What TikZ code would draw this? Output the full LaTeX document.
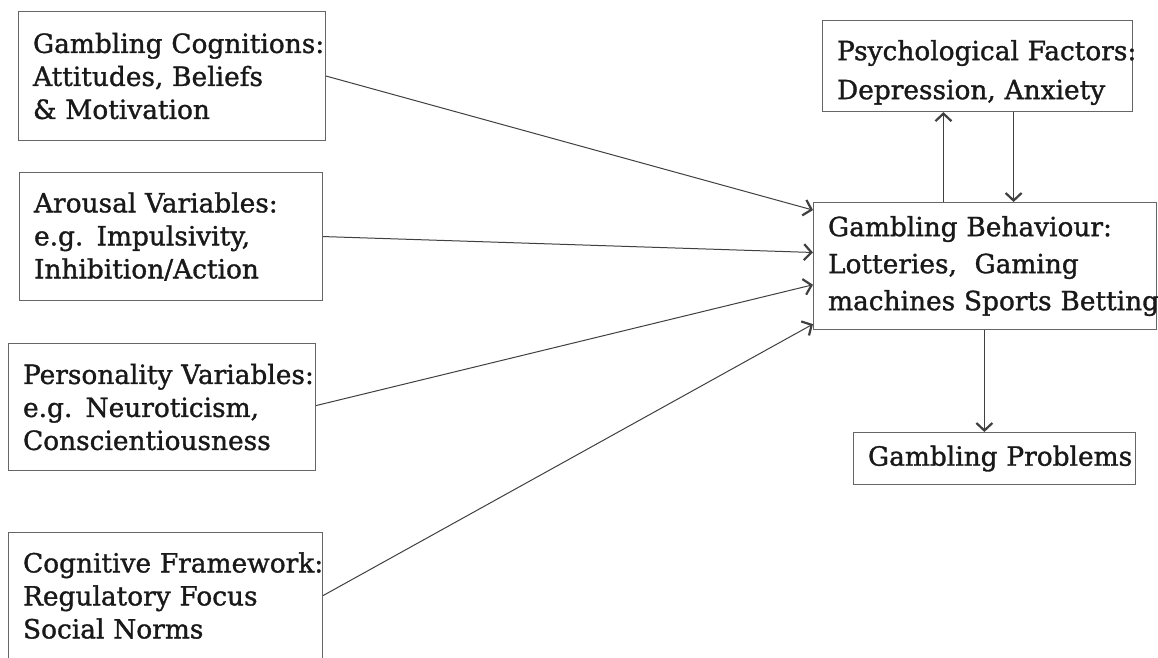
\documentclass[tikz,border=0pt]{standalone}
\usepackage{fontspec}
\setmainfont{DejaVu Serif}[FakeBold=1.2]
\usetikzlibrary{arrows.meta,calc}
\tikzset{
  boxnode/.style={draw=black!60, line width=1.1pt, inner ysep=0pt, inner xsep=14.5pt,
    anchor=north west, align=left, text=black!90,
    font=\fontsize{26.4}{33}\selectfont},
  link/.style={draw=black!75, line width=1pt,
    -{Straight Barb[length=7.5pt,width=16pt,line width=2.2pt]}}
}
\begin{document}
\begin{tikzpicture}[x=1pt,y=-1pt]
\useasboundingbox (0,0) rectangle (1158,657);
\clip (0,0) rectangle (1158,657);
\fill[white] (0,0) rectangle (1158,657);

\node[boxnode, minimum width=307pt, minimum height=129pt, text width=278pt] (c1) at (18,11)
  {\mbox{Gambling Cognitions:}\\\mbox{Attitudes, Beliefs}\\\mbox{\& Motivation}};
\node[boxnode, minimum width=303pt, minimum height=128pt, text width=274pt] (c2) at (19,172)
  {\mbox{Arousal Variables:}\\\mbox{e.g. Impulsivity,}\\\mbox{Inhibition/Action}};
\node[boxnode, minimum width=307pt, minimum height=127pt, text width=278pt] (c3) at (8,343)
  {\mbox{Personality Variables:}\\\mbox{e.g. Neuroticism,}\\\mbox{Conscientiousness}};
\node[boxnode, minimum width=314pt, minimum height=126pt, text width=285pt] (c4) at (8,532)
  {\mbox{Cognitive Framework:}\\\mbox{Regulatory Focus}\\\mbox{Social Norms}};
\node[boxnode, minimum width=310pt, minimum height=91pt, text width=281pt,
  font=\fontsize{26.4}{39}\selectfont] (psy) at (822,20)
  {\rule{0pt}{33pt}\mbox{Psychological Factors:}\\\mbox{Depression, Anxiety}};
\node[boxnode, minimum width=343pt, minimum height=127pt, text width=314pt,
  font=\fontsize{26.4}{37}\selectfont] (gb) at (813,202)
  {\mbox{Gambling Behaviour:}\\\mbox{Lotteries,~ Gaming}\\\mbox{machines Sports Betting}};
\node[boxnode, minimum width=282pt, minimum height=52pt, text width=253pt] (gp) at (853,432)
  {\mbox{Gambling Problems}};

\coordinate (t1) at ($(gb.north west)!0.063!(gb.south west)$);
\coordinate (t2) at ($(gb.north west)!0.394!(gb.south west)$);
\coordinate (t3) at ($(gb.north west)!0.646!(gb.south west)$);
\coordinate (t4) at ($(gb.north west)!0.953!(gb.south west)$);
\coordinate (s3) at ($(c3.east)+(0,-1.5)$);
\coordinate (up) at ($(gb.north west)!0.379!(gb.north east)$);
\coordinate (dn) at ($(gb.north west)!0.583!(gb.north east)$);
\coordinate (pb) at ($(gb.south west)!0.498!(gb.south east)$);

\draw[link] (c1.east) -- (t1);
\draw[link] (c2.east) -- (t2);
\draw[link] (s3) -- (t3);
\draw[link] (c4.east) -- (t4);
\draw[link] (up) -- (up |- psy.south);
\draw[link] (dn |- psy.south) -- (dn);
\draw[link] (pb) -- (pb |- gp.north);
\end{tikzpicture}
\end{document}
